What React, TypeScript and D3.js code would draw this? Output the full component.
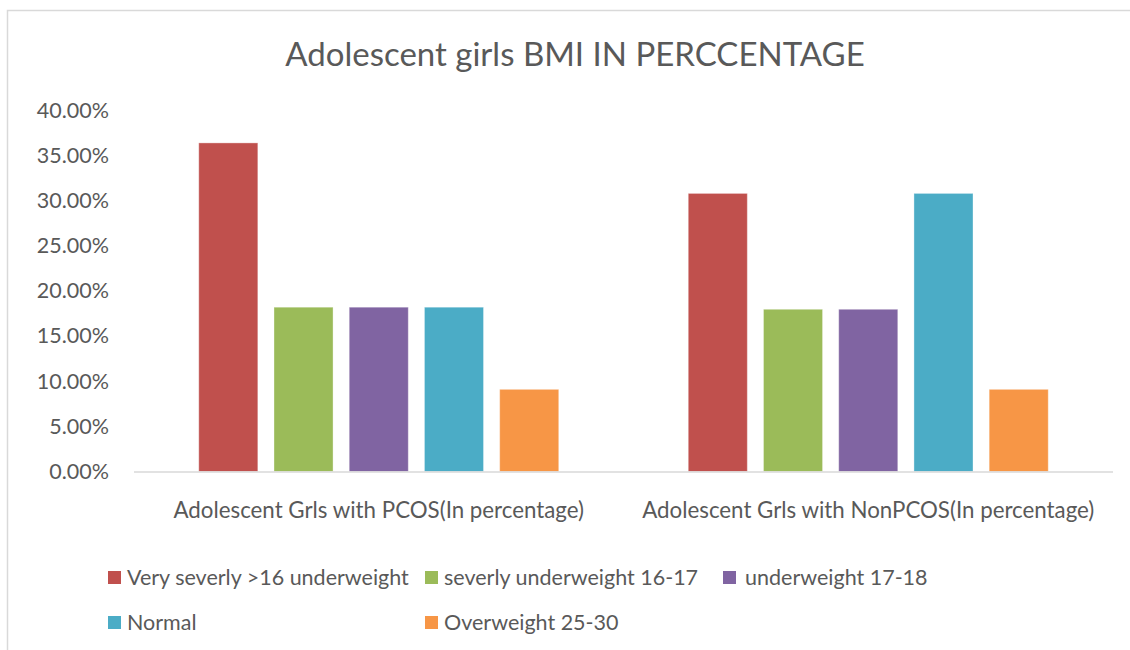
import React from "react";
import * as d3 from "d3";

const categories = [
  "Adolescent Grls with PCOS(In percentage)",
  "Adolescent Grls with NonPCOS(In percentage)",
];
const seriesNames = [
  "Very severly >16 underweight",
  "severly underweight 16-17",
  "underweight 17-18",
  "Normal",
  "Overweight 25-30",
];
const seriesColors = ["#C0504D", "#9BBB59", "#8064A2", "#4BACC6", "#F79646"];
// values in percent, per series: [PCOS, NonPCOS]
const veryServerly = [36.36, 30.77];
const severly = [18.18, 17.95];
const underweight = [18.18, 17.95];
const normal = [18.18, 30.77];
const overweight = [9.09, 9.09];
const seriesValues = [veryServerly, severly, underweight, normal, overweight];
const yTicks = [0, 5, 10, 15, 20, 25, 30, 35, 40];

const W = 1130;
const H = 650;
const FONT = "Lato, 'Open Sans', sans-serif";
const TEXT = "#595959";

export default function App() {
  const plotLeft = 134;
  const plotRight = 1113;
  const y = d3.scaleLinear().domain([0, 40]).range([471.5, 110]);
  const x0 = d3.scaleBand<string>().domain(categories).range([plotLeft, plotRight]);
  const band = x0.bandwidth();
  const outer = band * 0.1323;
  const x1 = d3
    .scaleBand<string>()
    .domain(seriesNames)
    .range([outer, band - outer])
    .paddingInner(0.215)
    .paddingOuter(0);

  const legendCols = [108, 425, 723];
  const legendRows = [571, 616];

  return (
    <svg
      width={W}
      height={H}
      style={{ position: "absolute", left: 0, top: 0, background: "#fff" }}
      fontFamily={FONT}
    >
      <rect x={0} y={0} width={W} height={H} fill="#fff" />
      <rect x={7.5} y={10.5} width={W + 20} height={H + 20} fill="#fff" stroke="#D9D9D9" strokeWidth={1.5} />
      <text x={575} y={66} textAnchor="middle" fontSize={33} fill={TEXT}>
        Adolescent girls BMI IN PERCCENTAGE
      </text>
      {yTicks.map((t) => (
        <text key={t} x={109} y={y(t) + 7.5} textAnchor="end" fontSize={21.5} fill={TEXT}>
          {t.toFixed(2) + "%"}
        </text>
      ))}
      {categories.map((c, ci) => (
        <g key={c} transform={`translate(${x0(c)},0)`}>
          {seriesNames.map((s, si) => {
            const v = seriesValues[si][ci];
            return (
              <rect
                key={s}
                x={x1(s)}
                y={y(v)}
                width={x1.bandwidth()}
                height={y(0) - y(v)}
                fill={seriesColors[si]}
                stroke="#fff"
                strokeOpacity={0.35}
                strokeWidth={1}
              />
            );
          })}
          <text x={band / 2} y={518} textAnchor="middle" fontSize={22.3} fill={TEXT}>
            {c}
          </text>
        </g>
      ))}
      <line x1={plotLeft} x2={plotRight} y1={y(0) + 0.5} y2={y(0) + 0.5} stroke="#D9D9D9" strokeWidth={1.5} />
      {seriesNames.map((s, i) => {
        const col = i % 3;
        const row = Math.floor(i / 3);
        const lx = legendCols[col];
        const ly = legendRows[row];
        return (
          <g key={s}>
            <rect x={lx} y={ly} width={13} height={13} fill={seriesColors[i]} />
            <text x={lx + (col === 2 ? 22 : 19)} y={ly + 14} fontSize={21.5} fill={TEXT}>
              {s}
            </text>
          </g>
        );
      })}
    </svg>
  );
}
